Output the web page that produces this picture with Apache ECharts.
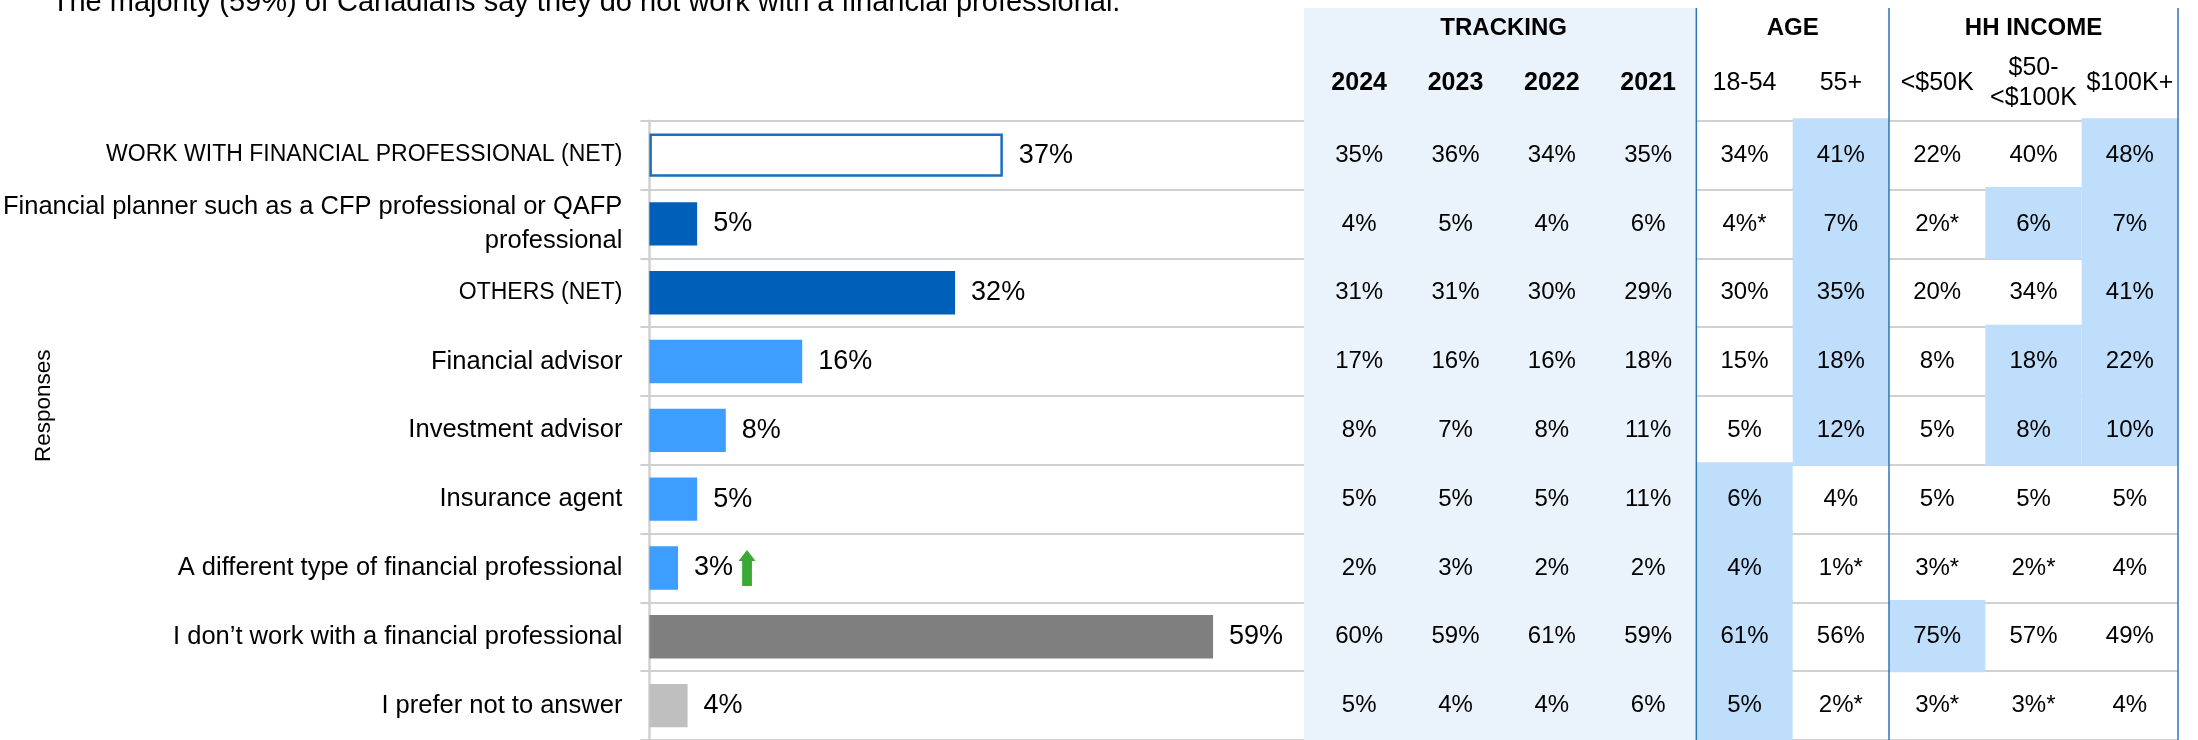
<!DOCTYPE html>
<html>
<head>
<meta charset="utf-8">
<script src="https://cdn.jsdelivr.net/npm/echarts@6/dist/echarts.min.js"></script>
<style>
  html, body { margin: 0; padding: 0; background: #fff; }
  #chart { width: 2198px; height: 740px; }
</style>
</head>
<body>
<div id="chart"></div>
<script>
// ---- Responses and overall results ----
const categories = [
  'WORK WITH FINANCIAL PROFESSIONAL (NET)',
  'Financial planner such as a CFP professional or QAFP professional',
  'OTHERS (NET)',
  'Financial advisor',
  'Investment advisor',
  'Insurance agent',
  'A different type of financial professional',
  'I don\u2019t work with a financial professional',
  'I prefer not to answer'
];
const totals = [37, 5, 32, 16, 8, 5, 3, 59, 4];
// significant increase vs. previous wave
const sigUp = [0, 0, 0, 0, 0, 0, 1, 0, 0];

// ---- Table: tracking, age and household income ----
const groupNames = ['TRACKING', 'AGE', 'HH INCOME'];
const groupSpans = [4, 2, 3];
const columnLabels = ['2024', '2023', '2022', '2021', '18-54', '55+', '<$50K', '$50-\n<$100K', '$100K+'];

const trk2024 = [35, 4, 31, 17, 8, 5, 2, 60, 5];
const trk2023 = [36, 5, 31, 16, 7, 5, 3, 59, 4];
const trk2022 = [34, 4, 30, 16, 8, 5, 2, 61, 4];
const trk2021 = [35, 6, 29, 18, 11, 11, 2, 59, 6];
const age1854 = [34, 4, 30, 15, 5, 6, 4, 61, 5];
const age55plus = [41, 7, 35, 18, 12, 4, 1, 56, 2];
const incUnder50 = [22, 2, 20, 8, 5, 5, 3, 75, 3];
const inc50to100 = [40, 6, 34, 18, 8, 5, 2, 57, 3];
const inc100plus = [48, 7, 41, 22, 10, 5, 4, 49, 4];

// small base (*) markers
const lowBase1854 = [0, 1, 0, 0, 0, 0, 0, 0, 0];
const lowBase55 = [0, 0, 0, 0, 0, 0, 1, 0, 1];
const lowBaseU50 = [0, 1, 0, 0, 0, 0, 1, 0, 1];
const lowBase50100 = [0, 0, 0, 0, 0, 0, 1, 0, 1];
const noFlags = [0, 0, 0, 0, 0, 0, 0, 0, 0];

// significantly higher than other subgroups
const high1854 = [0, 0, 0, 0, 0, 1, 1, 1, 1];
const high55 = [1, 1, 1, 1, 1, 0, 0, 0, 0];
const highU50 = [0, 0, 0, 0, 0, 0, 0, 1, 0];
const high50100 = [0, 1, 0, 1, 1, 0, 0, 0, 0];
const high100 = [1, 1, 1, 1, 1, 0, 0, 0, 0];

const tableColumns = [
  [trk2024, noFlags, noFlags],
  [trk2023, noFlags, noFlags],
  [trk2022, noFlags, noFlags],
  [trk2021, noFlags, noFlags],
  [age1854, lowBase1854, high1854],
  [age55plus, lowBase55, high55],
  [incUnder50, lowBaseU50, highU50],
  [inc50to100, lowBase50100, high50100],
  [inc100plus, noFlags, high100]
];

// ---- styling ----
const FONT = '"Liberation Sans", Arial, sans-serif';
const GRID_LINE = '#d0d0d0';
const PANEL = '#eaf2fb';
const HILITE = '#bfdefc';
const FRAME = '#2e75b6';
const barStyles = [
  { color: '#ffffff', borderColor: '#1b6ec2', borderWidth: 2.5 },
  { color: '#005fb8' },
  { color: '#005fb8' },
  { color: '#3d9eff' },
  { color: '#3d9eff' },
  { color: '#3d9eff' },
  { color: '#3d9eff' },
  { color: '#7f7f7f' },
  { color: '#bfbfbf' }
];

const GRID_TOP = 120.7;
const GRID_H = 619.3;
const HEADER_H = 112.7;

// cell records for the table
const cellData = [];
tableColumns.forEach(function (col, c) {
  col[0].forEach(function (v, r) {
    cellData.push({ value: [c, r], text: v + '%' + (col[1][r] ? '*' : ''), hi: !!col[2][r] });
  });
});

// group records: first column, row, last column
const groupData = [];
let start = 0;
groupSpans.forEach(function (span, g) {
  groupData.push({ value: [start, 0, start + span - 1], name: groupNames[g] });
  start += span;
});

function wrapLabel(name) {
  const words = name.split(' ');
  const lines = [];
  let cur = '';
  words.forEach(function (w) {
    const next = cur ? cur + ' ' + w : w;
    if (next.length > 52 && cur) { lines.push(cur); cur = w; } else { cur = next; }
  });
  lines.push(cur);
  const key = name === name.toUpperCase() ? 'c' : 'n';
  return lines.map(function (l) { return '{' + key + '|' + l + '}'; }).join('\n');
}

function groupBounds(params, api) {
  const from = api.value(0), to = api.value(2);
  const w = api.size([1, 1])[0];
  const x0 = api.coord([from, 0])[0] - w / 2;
  const x1 = api.coord([to, 0])[0] + w / 2;
  const cs = params.coordSys;
  return { x0: x0, x1: x1, top: cs.y - HEADER_H, bottom: cs.y + cs.height, cs: cs };
}

const chart = echarts.init(document.getElementById('chart'), null, { renderer: 'canvas' });

chart.setOption({
  animation: false,
  backgroundColor: '#ffffff',
  textStyle: { fontFamily: FONT },
  grid: [
    { left: 639, top: GRID_TOP, width: 1539, height: GRID_H, containLabel: false },
    { left: 1311, top: GRID_TOP, width: 867, height: GRID_H, containLabel: false }
  ],
  xAxis: [
    { gridIndex: 0, type: 'value', min: 0, max: 160, show: false },
    {
      gridIndex: 1, type: 'category', data: columnLabels, position: 'top', z: 10,
      axisLine: { show: false }, axisTick: { show: false }, splitLine: { show: false },
      axisLabel: {
        interval: 0, margin: 37.4, verticalAlign: 'middle', color: '#000',
        fontFamily: FONT, fontSize: 25, lineHeight: 30,
        formatter: function (v, i) {
          return v.split('\n').map(function (l) { return (i < 4 ? '{y|' : '{s|') + l + '}'; }).join('\n');
        },
        rich: {
          y: { fontFamily: FONT, fontSize: 25, fontWeight: 'bold', color: '#000', lineHeight: 30 },
          s: { fontFamily: FONT, fontSize: 25, color: '#000', lineHeight: 30 }
        }
      }
    }
  ],
  yAxis: [
    {
      gridIndex: 0, type: 'category', data: categories, inverse: true,
      axisLine: { show: true, lineStyle: { color: GRID_LINE, width: 2.5 } },
      axisTick: { show: true, length: 9, lineStyle: { color: GRID_LINE, width: 2 } },
      splitLine: { show: true, lineStyle: { color: GRID_LINE, width: 2 } },
      axisLabel: {
        interval: 0, margin: 27, color: '#000', align: 'right',
        formatter: wrapLabel,
        rich: {
          n: { fontFamily: FONT, fontSize: 25.5, color: '#000', lineHeight: 34.5 },
          c: { fontFamily: FONT, fontSize: 23, color: '#000', lineHeight: 34.5 }
        }
      }
    },
    { gridIndex: 1, type: 'category', data: categories, inverse: true, show: false }
  ],
  graphic: [
    {
      type: 'text', x: 51.7, y: 3.3, z: 20,
      style: {
        text: 'The majority (59%) of Canadians say they do not work with a financial professional.',
        font: '29px ' + FONT, fill: '#000', align: 'left', verticalAlign: 'middle'
      }
    },
    {
      type: 'text', x: 43.4, y: 405.8, rotation: Math.PI / 2, z: 20,
      style: { text: 'Responses', font: '22.5px ' + FONT, fill: '#000', align: 'center', verticalAlign: 'middle' }
    }
  ],
  series: [
    {
      type: 'bar', xAxisIndex: 0, yAxisIndex: 0, barWidth: '63%', z: 4,
      data: totals.map(function (v, i) { return { value: v, itemStyle: barStyles[i] }; }),
      label: {
        show: true, position: 'right', distance: 16, formatter: '{c}%',
        fontFamily: FONT, fontSize: 27, color: '#000'
      },
      markPoint: {
        symbolKeepAspect: false,
        data: sigUp.map(function (f, i) {
          return f ? {
            coord: [totals[i], categories[i]],
            symbol: 'path://M8.5,0 L17,11 L13.4,11 L13.4,36 L3.6,36 L3.6,11 L0,11 Z',
            symbolSize: [17, 36], symbolOffset: [69, 0],
            itemStyle: { color: '#3aaa35' }, label: { show: false }
          } : null;
        }).filter(Boolean)
      }
    },
    {
      // tracking panel background
      type: 'custom', xAxisIndex: 1, yAxisIndex: 1, z: 1, silent: true,
      data: groupData,
      renderItem: function (params, api) {
        if (params.dataIndex !== 0) return { type: 'group', children: [] };
        const b = groupBounds(params, api);
        return {
          type: 'rect',
          shape: { x: b.x0 - 7, y: b.top, width: b.x1 - b.x0 + 7, height: b.bottom - b.top },
          style: { fill: PANEL }
        };
      }
    },
    {
      // table cells
      type: 'custom', xAxisIndex: 1, yAxisIndex: 1, z: 2, silent: true,
      data: cellData,
      renderItem: function (params, api) {
        const pt = api.coord([api.value(0), api.value(1)]);
        const sz = api.size([1, 1]);
        const d = cellData[params.dataIndex];
        const children = [];
        if (d.hi) {
          children.push({
            type: 'rect',
            shape: { x: pt[0] - sz[0] / 2, y: pt[1] - sz[1] / 2 - 2.5, width: sz[0], height: sz[1] + 3.5 },
            style: { fill: HILITE }
          });
        }
        children.push({
          type: 'text', x: pt[0], y: pt[1],
          style: { text: d.text, font: '24px ' + FONT, fill: '#000', align: 'center', verticalAlign: 'middle' }
        });
        return { type: 'group', children: children };
      }
    },
    {
      // group frames and group headings
      type: 'custom', xAxisIndex: 1, yAxisIndex: 1, z: 3, silent: true,
      data: groupData,
      renderItem: function (params, api) {
        const b = groupBounds(params, api);
        return {
          type: 'group',
          children: [
            {
              type: 'line',
              shape: { x1: b.x1, y1: b.top, x2: b.x1, y2: b.bottom },
              style: { stroke: FRAME, lineWidth: 1.5 }
            },
            {
              type: 'text', x: (b.x0 + b.x1) / 2, y: b.cs.y - 92.4,
              style: {
                text: groupNames[params.dataIndex], font: 'bold 24px ' + FONT,
                fill: '#000', align: 'center', verticalAlign: 'middle'
              }
            }
          ]
        };
      }
    }
  ]
});
</script>
</body>
</html>
